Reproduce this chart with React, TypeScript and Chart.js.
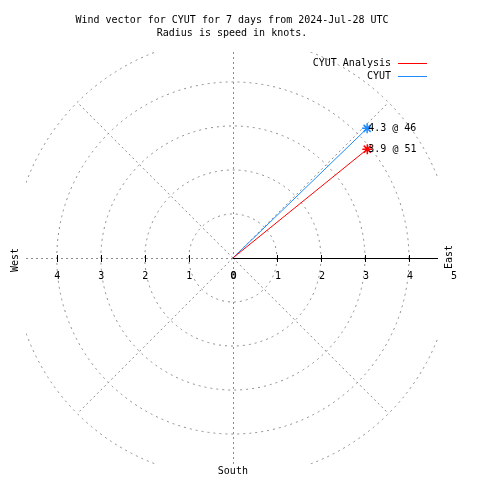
import React, { useEffect, useRef } from "react";
import { Chart, registerables } from "chart.js";

Chart.register(...registerables);

// ---- data ----
const titleLines = [
  "Wind vector for CYUT for 7 days from 2024-Jul-28 UTC",
  "Radius is speed in knots.",
];
const seriesNames = ["CYUT Analysis", "CYUT"];
const vectorSpeed = [3.93, 4.24]; // knots (vector length)
const vectorDirection = [51, 46]; // degrees from north
const labelSpeed = [3.9, 4.3];
const labelDirection = [51, 46];
const ringValues = [1, 2, 3, 4, 5];
const spokeAngles = [45, 135, 225, 315];
const rightTicks = [0, 1, 2, 3, 4, 5];
const leftTicks = [0, 1, 2, 3, 4];
const compassLabels = ["West", "East", "South"];

// ---- style ----
const seriesColors = ["#ff0000", "#1e8cff"];
const gridColor = "#8c8c8c";
const FONT = '10px "DejaVu Sans Mono", "Liberation Mono", monospace';

const polarPlugin = {
  id: "polarGrid",
  beforeDatasetsDraw(chart: any) {
    const { ctx, chartArea: ca } = chart;
    const xs = chart.scales.x;
    const ys = chart.scales.y;
    const cx = xs.getPixelForValue(0);
    const cy = ys.getPixelForValue(0);
    const unit = xs.getPixelForValue(1) - cx;
    ctx.save();
    ctx.beginPath();
    ctx.rect(ca.left, ca.top, ca.right - ca.left, ca.bottom - ca.top);
    ctx.clip();
    ctx.strokeStyle = gridColor;
    ctx.lineWidth = 1;
    ctx.setLineDash([2, 4]);
    ringValues.forEach((r) => {
      ctx.beginPath();
      ctx.arc(cx, cy, r * unit, 0, Math.PI * 2);
      ctx.stroke();
    });
    const outer = ringValues[ringValues.length - 1];
    ctx.setLineDash([2, 3]);
    spokeAngles.forEach((a) => {
      const rad = (a * Math.PI) / 180;
      ctx.beginPath();
      ctx.moveTo(cx, cy);
      ctx.lineTo(
        xs.getPixelForValue(outer * Math.sin(rad)),
        ys.getPixelForValue(outer * Math.cos(rad))
      );
      ctx.stroke();
    });
    // vertical axis
    ctx.beginPath();
    ctx.moveTo(Math.round(cx) + 0.5, ca.top);
    ctx.lineTo(Math.round(cx) + 0.5, ca.bottom);
    ctx.stroke();
    // left horizontal (dashed)
    ctx.beginPath();
    ctx.moveTo(ca.left, Math.round(cy) + 0.5);
    ctx.lineTo(cx, Math.round(cy) + 0.5);
    ctx.stroke();
    ctx.restore();

    // right horizontal solid axis
    ctx.save();
    ctx.strokeStyle = "#000";
    ctx.lineWidth = 1;
    ctx.beginPath();
    ctx.moveTo(cx, Math.round(cy) + 0.5);
    ctx.lineTo(ca.right, Math.round(cy) + 0.5);
    ctx.stroke();
    // tick marks
    const tickSet = new Set<number>();
    rightTicks.forEach((t) => t > 0 && t * unit < ca.right - cx && tickSet.add(t));
    leftTicks.forEach((t) => t > 0 && tickSet.add(-t));
    tickSet.forEach((t) => {
      const px = Math.round(xs.getPixelForValue(t)) + 0.5;
      ctx.beginPath();
      ctx.moveTo(px, cy - 3);
      ctx.lineTo(px, cy + 4);
      ctx.stroke();
    });
    // tick labels
    ctx.fillStyle = "#000";
    ctx.font = FONT;
    ctx.textAlign = "center";
    ctx.textBaseline = "middle";
    rightTicks.forEach((t) => {
      ctx.fillText(String(t), xs.getPixelForValue(t) + 1, cy + 18);
    });
    leftTicks.forEach((t) => {
      ctx.fillText(String(t), xs.getPixelForValue(-t) + 0.5, cy + 18);
    });
    ctx.restore();
  },
  afterDatasetsDraw(chart: any) {
    const { ctx } = chart;
    ctx.save();
    ctx.fillStyle = "#000";
    ctx.font = FONT;
    ctx.textAlign = "left";
    ctx.textBaseline = "middle";
    chart.data.datasets.forEach((ds: any, i: number) => {
      const meta = chart.getDatasetMeta(i);
      const pt = meta.data[1];
      ctx.fillText(
        `${labelSpeed[i].toFixed(1)} @ ${labelDirection[i]}`,
        pt.x + 1,
        pt.y
      );
    });
    ctx.restore();
  },
  afterDraw(chart: any) {
    const { ctx } = chart;
    const xs = chart.scales.x;
    const ys = chart.scales.y;
    const cx = xs.getPixelForValue(0);
    const cy = ys.getPixelForValue(0);
    ctx.save();
    ctx.fillStyle = "#000";
    ctx.font = FONT;
    ctx.textBaseline = "middle";
    ctx.textAlign = "center";
    titleLines.forEach((line, i) => ctx.fillText(line, 232, 20 + i * 13));
    // legend
    ctx.textAlign = "right";
    seriesNames.forEach((name, i) => {
      const y = 63 + i * 13;
      ctx.fillText(name, 391, y);
      ctx.strokeStyle = seriesColors[i];
      ctx.lineWidth = 1;
      ctx.beginPath();
      ctx.moveTo(398, Math.round(y) + 0.5);
      ctx.lineTo(427, Math.round(y) + 0.5);
      ctx.stroke();
    });
    // compass labels
    ctx.textAlign = "center";
    ctx.save();
    ctx.translate(15, cy + 2);
    ctx.rotate(-Math.PI / 2);
    ctx.fillText(compassLabels[0], 0, 0);
    ctx.restore();
    ctx.save();
    ctx.translate(449, cy - 1);
    ctx.rotate(-Math.PI / 2);
    ctx.fillText(compassLabels[1], 0, 0);
    ctx.restore();
    ctx.fillText(compassLabels[2], cx, 471);
    ctx.restore();
  },
};

export default function App() {
  const ref = useRef<HTMLCanvasElement | null>(null);
  useEffect(() => {
    if (!ref.current) return;
    const datasets = seriesNames.map((name, i) => {
      const rad = (vectorDirection[i] * Math.PI) / 180;
      return {
        label: name,
        data: [
          { x: 0, y: 0 },
          {
            x: vectorSpeed[i] * Math.sin(rad),
            y: vectorSpeed[i] * Math.cos(rad),
          },
        ],
        showLine: true,
        borderColor: seriesColors[i],
        backgroundColor: seriesColors[i],
        borderWidth: 1,
        pointStyle: "star",
        pointRadius: [0, 5],
        pointBorderWidth: 1.5,
        pointBorderColor: seriesColors[i],
      };
    });
    const chart = new Chart(ref.current, {
      type: "scatter",
      data: { datasets: datasets as any },
      options: {
        animation: false,
        responsive: false,
        layout: { padding: { left: 26, right: 42, top: 52, bottom: 16 } },
        scales: {
          x: { type: "linear", min: -4.7, max: 4.66, display: false },
          y: { type: "linear", min: -4.68, max: 4.68, display: false },
        },
        plugins: {
          legend: { display: false },
          title: { display: false },
          tooltip: { enabled: false },
        },
      },
      plugins: [polarPlugin],
    });
    return () => chart.destroy();
  }, []);
  return (
    <div style={{ position: "absolute", left: 0, top: 0, width: 480, height: 480, background: "#fff" }}>
      <canvas ref={ref} width={480} height={480} />
    </div>
  );
}
